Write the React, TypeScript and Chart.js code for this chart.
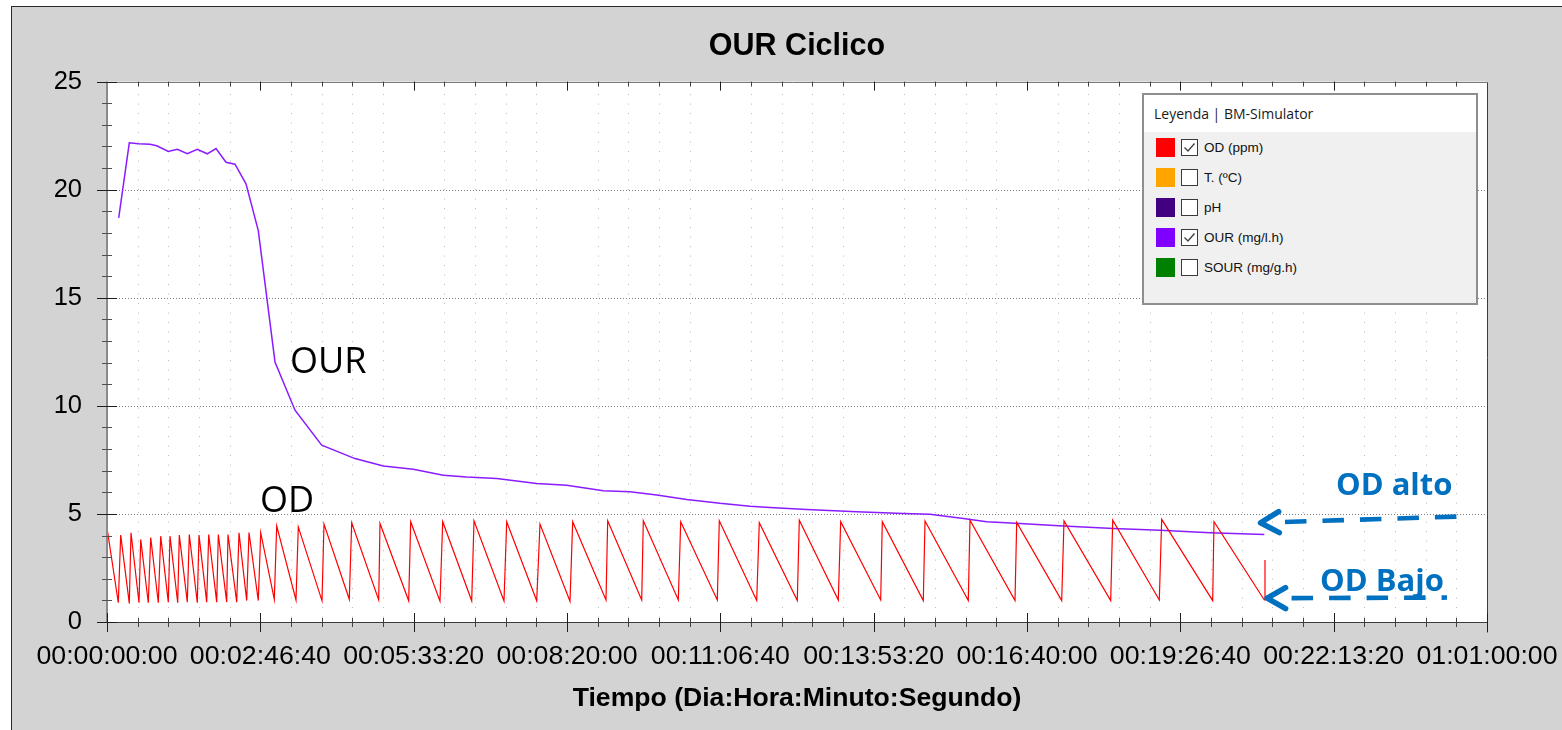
import { useEffect, useRef } from "react";
import { Chart, registerables } from "chart.js";

Chart.register(...registerables);

// ---- OD (ppm): one sample at start, then the trough and peak of every aeration cycle (time in s)
const odStart = { t: 40, v: 4.17 };
const odTroughTimes = [
  737, 1454, 2087, 2693, 3346, 3998, 4611, 5237, 5889, 6502, 7154, 7806, 8459, 9111, 9867,
  10911, 12326, 14022, 15802, 17720, 19676, 21717, 23785, 25891, 28024, 30195,
  32543, 34872, 37259, 39802, 42372, 45019, 47693, 50458, 53237,
  56172, 59217, 62263, 65458, 68628, 72110, 75476,
];
const odTroughValues = [
  0.89, 0.86, 0.89, 0.89, 0.89, 0.92, 0.89, 0.92, 0.89, 0.92, 0.92, 0.92, 0.92, 0.99, 0.99,
  1.05, 1.02, 0.98, 1.05, 1.02, 0.98, 0.96, 0.98, 0.97, 0.98, 0.96,
  1.02, 1.02, 1.02, 1.02, 0.99, 0.99, 1.02, 1.02, 0.99,
  0.99, 0.99, 0.99, 0.99, 1.02, 0.99, 1.02,
];
const odPeakTimes = [
  893, 1565, 2198, 2850, 3502, 4109, 4715, 5367, 6000, 6633, 7259, 7891, 8609, 9261, 10024,
  11067, 12476, 14152, 15958, 17804, 19806, 21893, 23935, 26067, 28239, 30371,
  32654, 34976, 37415, 39933, 42541, 45150, 47849, 50563, 53348,
  56282, 59328, 62413, 65589, 68784, 72195, 75521,
];
const odPeakValues = [
  4.02, 4.13, 3.82, 3.91, 3.97, 3.97, 4.02, 4.05, 4.02, 4.05, 4.05, 4.05, 4.13, 4.14, 4.13,
  4.45, 4.4, 4.53, 4.59, 4.56, 4.64, 4.64, 4.68, 4.64, 4.53, 4.64,
  4.68, 4.68, 4.64, 4.68, 4.59, 4.71, 4.64, 4.64, 4.67,
  4.71, 4.61, 4.68, 4.71, 4.75, 4.64, 2.87,
];

// ---- OUR (mg/l.h) (time in s)
const ourTimes = [
  763, 1454, 2041, 2804, 3241, 3998, 4585, 5237, 5889, 6541, 7109, 7761, 8348, 9065, 9867,
  10956, 12261, 14002, 16174, 18020, 19976, 21933, 23459, 25415, 28024, 29980, 32367, 34109,
  35850, 37806, 39978, 41935, 43239, 45632, 48893, 51933, 53674, 55846, 57372, 59543, 62367,
  65628, 68674, 71935, 75476,
];
const ourValues = [
  18.7, 22.17, 22.12, 22.1, 22.03, 21.77, 21.87, 21.66, 21.87, 21.66, 21.9, 21.27, 21.18, 20.27,
  18.11, 12.03, 9.8, 8.18, 7.56, 7.22, 7.07, 6.79, 6.71, 6.64, 6.41, 6.33, 6.07, 6.02, 5.87,
  5.67, 5.49, 5.36, 5.3, 5.21, 5.1, 5.02, 4.98, 4.79, 4.64, 4.56, 4.44, 4.33, 4.25, 4.13, 4.05,
];

// ---- axes
const X_MAX = 90000;
const X_MAJOR = 10000;
const X_MINOR = 2000;
const Y_MAX = 25;
const Y_MAJOR = 5;
const Y_MINOR = 1;

// ---- legend panel
const legendLabels = ["OD (ppm)", "T. (ºC)", "pH", "OUR (mg/l.h)", "SOUR (mg/g.h)"];
const legendColors = ["#ff0000", "#ffa500", "#400080", "#8000ff", "#008000"];
const legendChecked = [true, false, false, true, false];

// ---- setpoints pointed at by the arrows
const OD_ALTO = 4.59;
const OD_BAJO = 1.1;

const axisFont = "'Liberation Sans', Arial, sans-serif";
const noteFont = "'Open Sans', 'Noto Sans', sans-serif";

function fmtTime(sec: number): string {
  const d = Math.floor(sec / 86400);
  const h = Math.floor((sec % 86400) / 3600);
  const m = Math.floor((sec % 3600) / 60);
  const s = Math.floor(sec % 60);
  return [d, h, m, s].map((n) => String(n).padStart(2, "0")).join(":");
}

function buildOd() {
  const pts = [{ x: odStart.t, y: odStart.v }];
  for (let i = 0; i < odTroughTimes.length; i++) {
    pts.push({ x: odTroughTimes[i], y: odTroughValues[i] });
    pts.push({ x: odPeakTimes[i], y: odPeakValues[i] });
  }
  return pts;
}

const crisp = (v: number) => Math.round(v) + 0.5;

const framePlugin = {
  id: "frame",
  beforeDraw(chart: any) {
    const { ctx, chartArea: a } = chart;
    ctx.save();
    ctx.fillStyle = "#ffffff";
    ctx.fillRect(a.left, a.top, a.right - a.left, a.bottom - a.top);
    ctx.restore();
  },
  beforeDatasetsDraw(chart: any) {
    const { ctx, chartArea: a, scales } = chart;
    const x = scales.x;
    const y = scales.y;
    ctx.save();
    ctx.lineWidth = 1;
    // minor vertical grid, dotted
    ctx.strokeStyle = "#b8b8b8";
    ctx.setLineDash([1, 8.5]);
    ctx.lineDashOffset = -3;
    for (let t = X_MINOR; t < X_MAX; t += X_MINOR) {
      if (t % X_MAJOR === 0) continue;
      const px = crisp(x.getPixelForValue(t));
      ctx.beginPath();
      ctx.moveTo(px, a.top);
      ctx.lineTo(px, a.bottom);
      ctx.stroke();
    }
    // major horizontal grid, dotted
    ctx.strokeStyle = "#7c7c7c";
    ctx.setLineDash([1, 2]);
    ctx.lineDashOffset = 0;
    for (let v = Y_MAJOR; v < Y_MAX; v += Y_MAJOR) {
      const py = crisp(y.getPixelForValue(v));
      ctx.beginPath();
      ctx.moveTo(a.left, py);
      ctx.lineTo(a.right, py);
      ctx.stroke();
    }
    ctx.restore();
  },
  afterDatasetsDraw(chart: any) {
    const { ctx, chartArea: a, scales } = chart;
    const x = scales.x;
    const y = scales.y;
    const L = Math.round(a.left);
    const R = crisp(a.right);
    const T = crisp(a.top);
    const B = crisp(a.bottom);
    const line = (x1: number, y1: number, x2: number, y2: number) => {
      ctx.beginPath();
      ctx.moveTo(x1, y1);
      ctx.lineTo(x2, y2);
      ctx.stroke();
    };
    ctx.save();
    ctx.setLineDash([]);
    // frame
    ctx.lineWidth = 1;
    ctx.strokeStyle = "#7a7a7a";
    line(L - 10, T, R, T);
    ctx.strokeStyle = "#3c3c3c";
    line(L - 10, B, R, B);
    line(R, T, R, B + 10);
    ctx.lineWidth = 2;
    ctx.strokeStyle = "#8a8a8a";
    line(L, a.top, L, a.bottom);

    // y ticks crossing the left axis
    ctx.lineWidth = 1;
    for (let v = 0; v <= Y_MAX; v += Y_MINOR) {
      const py = crisp(y.getPixelForValue(v));
      const major = v % Y_MAJOR === 0;
      ctx.strokeStyle = major ? "#1e1e1e" : "#505050";
      const len = major ? 10 : 5;
      line(L - len, py, L + len, py);
    }
    // x ticks on top (inward) and bottom (crossing)
    for (let t = 0; t <= X_MAX; t += X_MINOR) {
      const px = crisp(x.getPixelForValue(t));
      const major = t % X_MAJOR === 0;
      ctx.strokeStyle = major ? "#1e1e1e" : "#404040";
      if (t > 0 && t < X_MAX) {
        line(px, a.top, px, a.top + (major ? 9 : 5));
      }
      if (major) line(px, a.bottom - 9, px, a.bottom + 10);
      else line(px, a.bottom - 4, px, a.bottom + 5);
    }

    // curve labels
    ctx.fillStyle = "#000000";
    ctx.font = `36px ${noteFont}`;
    ctx.textAlign = "left";
    ctx.textBaseline = "alphabetic";
    ctx.fillText("OUR", x.getPixelForValue(11930), y.getPixelForValue(11.52));
    ctx.fillText("OD", x.getPixelForValue(9980), y.getPixelForValue(5.1));

    // setpoint call-outs
    const blue = "#0070c0";
    ctx.fillStyle = blue;
    ctx.font = `bold 31px ${noteFont}`;
    ctx.fillText("OD alto", x.getPixelForValue(80150), y.getPixelForValue(5.87));
    ctx.fillText("OD Bajo", x.getPixelForValue(79110), y.getPixelForValue(1.45));

    const arrow = (tipT: number, tipV: number, endT: number, endV: number) => {
      const tx = x.getPixelForValue(tipT);
      const ty = y.getPixelForValue(tipV);
      const ex = x.getPixelForValue(endT);
      const ey = y.getPixelForValue(endV);
      const len = Math.hypot(ex - tx, ey - ty);
      const ux = (ex - tx) / len;
      const uy = (ey - ty) / len;
      ctx.strokeStyle = blue;
      // dashed shaft
      ctx.lineWidth = 4.6;
      ctx.lineCap = "butt";
      ctx.setLineDash([21.5, 16]);
      line(tx + ux * 26, ty + uy * 26, ex, ey);
      // chevron head
      ctx.setLineDash([]);
      ctx.lineWidth = 5.5;
      ctx.lineCap = "round";
      ctx.lineJoin = "round";
      const ax = 20, ay = 10.5;
      ctx.beginPath();
      ctx.moveTo(tx + ux * ax - uy * ay, ty + uy * ax + ux * ay);
      ctx.lineTo(tx + ux * 1.5, ty + uy * 1.5);
      ctx.lineTo(tx + ux * ax + uy * ay, ty + uy * ax - ux * ay);
      ctx.stroke();
    };
    arrow(75130, OD_ALTO, 88040, 4.875);
    arrow(75560, OD_BAJO, 87390, 1.13);
    ctx.restore();
  },
};

function Legend() {
  return (
    <div
      style={{
        position: "absolute",
        left: 1142,
        top: 93,
        width: 336,
        height: 212,
        boxSizing: "border-box",
        border: "2px solid #8e8e8e",
        background: "#f0f0f0",
      }}
    >
      <div
        style={{
          height: 37,
          background: "#ffffff",
          paddingLeft: 10,
          fontFamily: noteFont,
          fontSize: 14,
          lineHeight: "38px",
          color: "#1a1a1a",
          whiteSpace: "nowrap",
        }}
      >
        Leyenda | BM-Simulator
      </div>
      {legendLabels.map((label, i) => (
        <div key={label} style={{ height: 30.2, display: "flex", alignItems: "center" }}>
          <span style={{ marginLeft: 11.7, width: 19, height: 19, background: legendColors[i], flexShrink: 0 }} />
          <span
            style={{
              marginLeft: 6,
              width: 17,
              height: 17,
              boxSizing: "border-box",
              border: "1px solid #3a3a3a",
              background: "#ffffff",
              position: "relative",
              flexShrink: 0,
            }}
          >
            {legendChecked[i] && (
              <svg width="15" height="15" style={{ position: "absolute", left: 0, top: 0 }}>
                <polyline points="2.5,7.5 6,11 12.5,3.5" fill="none" stroke="#444" strokeWidth="1.4" />
              </svg>
            )}
          </span>
          <span
            style={{
              marginLeft: 6.3,
              fontFamily: axisFont,
              fontSize: 13.5,
              color: "#111",
              whiteSpace: "nowrap",
            }}
          >
            {label}
          </span>
        </div>
      ))}
    </div>
  );
}

export default function App() {
  const canvasRef = useRef<HTMLCanvasElement | null>(null);

  useEffect(() => {
    const canvas = canvasRef.current;
    if (!canvas) return;
    const chart = new Chart(canvas, {
      type: "line",
      data: {
        datasets: [
          {
            label: "OD (ppm)",
            data: buildOd(),
            borderColor: "#ff0000",
            borderWidth: 1.2,
            pointRadius: 0,
            tension: 0,
          },
          {
            label: "OUR (mg/l.h)",
            data: ourTimes.map((t, i) => ({ x: t, y: ourValues[i] })),
            borderColor: "#8a1cff",
            borderWidth: 1.5,
            pointRadius: 0,
            tension: 0,
          },
        ],
      },
      options: {
        responsive: false,
        maintainAspectRatio: false,
        devicePixelRatio: 1,
        animation: false,
        events: [],
        layout: { padding: { left: 0, right: 75, top: 0, bottom: 0 } },
        plugins: {
          legend: { display: false },
          tooltip: { enabled: false },
          title: {
            display: true,
            text: "OUR Ciclico",
            fullSize: false,
            color: "#000000",
            font: { family: axisFont, size: 30.5, weight: "bold" },
            padding: { top: 28, bottom: 17 },
          },
        },
        scales: {
          x: {
            type: "linear",
            min: 0,
            max: X_MAX,
            grid: { display: false, drawTicks: false },
            border: { display: false },
            ticks: {
              stepSize: X_MAJOR,
              autoSkip: false,
              maxRotation: 0,
              padding: 19,
              color: "#000000",
              font: { family: axisFont, size: 26.7 },
              callback: (v: any) => fmtTime(Number(v)),
            },
            title: {
              display: true,
              text: "Tiempo (Dia:Hora:Minuto:Segundo)",
              color: "#000000",
              font: { family: axisFont, size: 26.6, weight: "bold" },
              padding: { top: 0, bottom: 15 },
            },
            afterFit(s: any) {
              s.height = 108;
              s.paddingLeft = 0;
              s.paddingRight = 0;
            },
          },
          y: {
            type: "linear",
            min: 0,
            max: Y_MAX,
            grid: { display: false, drawTicks: false },
            border: { display: false },
            ticks: {
              stepSize: Y_MAJOR,
              padding: 25,
              color: "#000000",
              font: { family: axisFont, size: 25.5 },
            },
            afterFit(s: any) {
              s.width = 107;
              s.paddingTop = 0;
              s.paddingBottom = 0;
            },
          },
        },
      } as any,
      plugins: [framePlugin],
    });
    return () => chart.destroy();
  }, []);

  return (
    <div
      style={{
        position: "fixed",
        left: 0,
        top: 0,
        width: 1562,
        height: 730,
        background: "#ffffff",
        overflow: "hidden",
      }}
    >
      <div
        style={{
          position: "absolute",
          left: 11,
          top: 6,
          width: 1600,
          height: 800,
          background: "#d3d3d3",
          borderLeft: "1px solid #2a2a2a",
          borderTop: "1px solid #2a2a2a",
        }}
      />
      <canvas
        ref={canvasRef}
        width={1562}
        height={730}
        style={{ position: "absolute", left: 0, top: 0, width: 1562, height: 730 }}
      />
      <Legend />
    </div>
  );
}
